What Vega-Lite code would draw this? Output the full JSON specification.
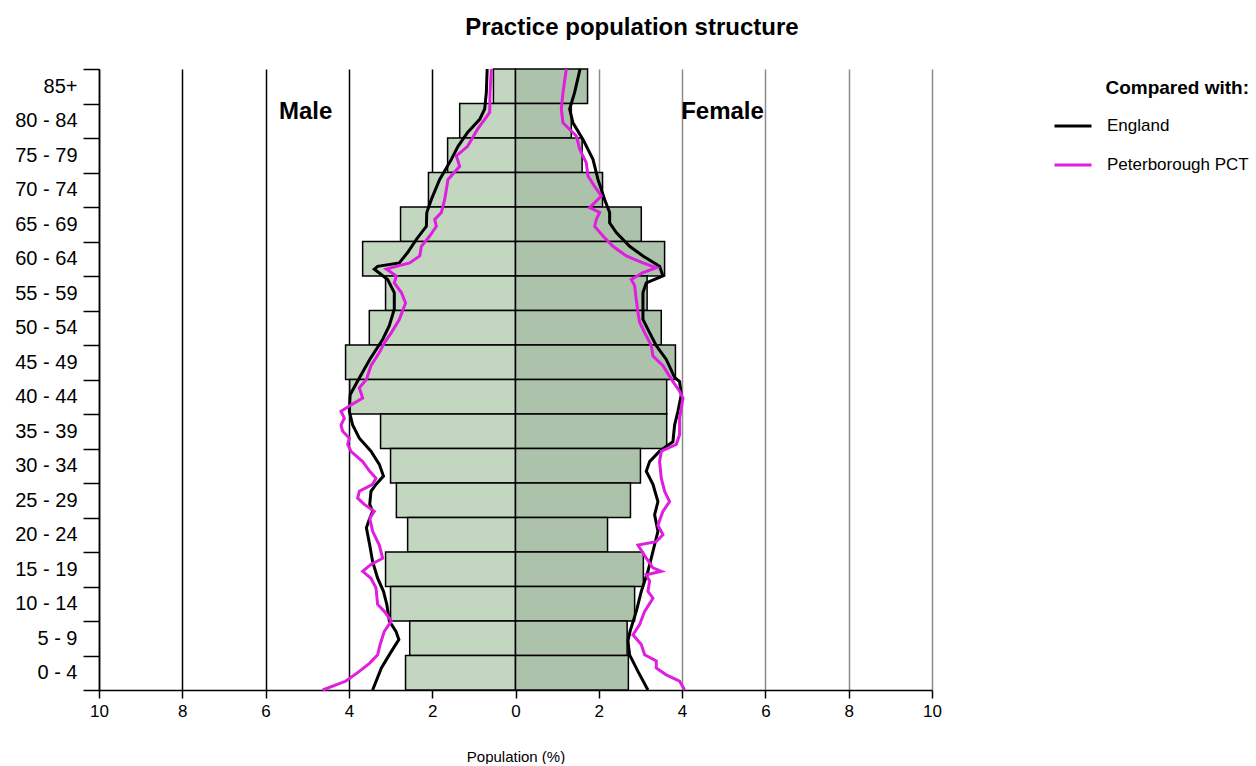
{
  "$schema": "https://vega.github.io/schema/vega-lite/v6.json",
  "width": 833,
  "height": 621,
  "padding": {"left": 14, "top": 16, "right": 4, "bottom": 0},
  "config": {"font": "Liberation Sans", "view": {"stroke": null}},
  "title": {"text": "Practice population structure", "fontSize": 24, "fontWeight": "bold", "font": "Liberation Sans", "color": "#000", "anchor": "middle", "frame": "bounds", "offset": 19},
  "resolve": {"scale": {"y": "independent"}},
  "datasets": {
    "bars": [
      {"band": "85+", "sex": "Male", "pop": -0.53},
      {"band": "80 - 84", "sex": "Male", "pop": -1.34},
      {"band": "75 - 79", "sex": "Male", "pop": -1.63},
      {"band": "70 - 74", "sex": "Male", "pop": -2.09},
      {"band": "65 - 69", "sex": "Male", "pop": -2.76},
      {"band": "60 - 64", "sex": "Male", "pop": -3.67},
      {"band": "55 - 59", "sex": "Male", "pop": -3.12},
      {"band": "50 - 54", "sex": "Male", "pop": -3.51},
      {"band": "45 - 49", "sex": "Male", "pop": -4.08},
      {"band": "40 - 44", "sex": "Male", "pop": -3.98},
      {"band": "35 - 39", "sex": "Male", "pop": -3.24},
      {"band": "30 - 34", "sex": "Male", "pop": -3.0},
      {"band": "25 - 29", "sex": "Male", "pop": -2.86},
      {"band": "20 - 24", "sex": "Male", "pop": -2.59},
      {"band": "15 - 19", "sex": "Male", "pop": -3.12},
      {"band": "10 - 14", "sex": "Male", "pop": -3.0},
      {"band": "5 - 9", "sex": "Male", "pop": -2.54},
      {"band": "0 - 4", "sex": "Male", "pop": -2.64},
      {"band": "85+", "sex": "Female", "pop": 1.73},
      {"band": "80 - 84", "sex": "Female", "pop": 1.34},
      {"band": "75 - 79", "sex": "Female", "pop": 1.6},
      {"band": "70 - 74", "sex": "Female", "pop": 2.09},
      {"band": "65 - 69", "sex": "Female", "pop": 3.02},
      {"band": "60 - 64", "sex": "Female", "pop": 3.58},
      {"band": "55 - 59", "sex": "Female", "pop": 3.16},
      {"band": "50 - 54", "sex": "Female", "pop": 3.5},
      {"band": "45 - 49", "sex": "Female", "pop": 3.84},
      {"band": "40 - 44", "sex": "Female", "pop": 3.63},
      {"band": "35 - 39", "sex": "Female", "pop": 3.63},
      {"band": "30 - 34", "sex": "Female", "pop": 3.0},
      {"band": "25 - 29", "sex": "Female", "pop": 2.76},
      {"band": "20 - 24", "sex": "Female", "pop": 2.21},
      {"band": "15 - 19", "sex": "Female", "pop": 3.07},
      {"band": "10 - 14", "sex": "Female", "pop": 2.86},
      {"band": "5 - 9", "sex": "Female", "pop": 2.68},
      {"band": "0 - 4", "sex": "Female", "pop": 2.71}
    ],
    "lines": [
      {"s": "England", "sex": "M", "age": 0, "pop": -3.43},
      {"s": "England", "sex": "M", "age": 3.2, "pop": -3.22},
      {"s": "England", "sex": "M", "age": 5.6, "pop": -2.98},
      {"s": "England", "sex": "M", "age": 7.3, "pop": -2.8},
      {"s": "England", "sex": "M", "age": 8.5, "pop": -2.87},
      {"s": "England", "sex": "M", "age": 10, "pop": -3.03},
      {"s": "England", "sex": "M", "age": 12.4, "pop": -3.09},
      {"s": "England", "sex": "M", "age": 14.3, "pop": -3.17},
      {"s": "England", "sex": "M", "age": 16.2, "pop": -3.31},
      {"s": "England", "sex": "M", "age": 18.6, "pop": -3.43},
      {"s": "England", "sex": "M", "age": 21, "pop": -3.5},
      {"s": "England", "sex": "M", "age": 23.5, "pop": -3.58},
      {"s": "England", "sex": "M", "age": 24.9, "pop": -3.5},
      {"s": "England", "sex": "M", "age": 25.9, "pop": -3.43},
      {"s": "England", "sex": "M", "age": 26.9, "pop": -3.5},
      {"s": "England", "sex": "M", "age": 28.8, "pop": -3.47},
      {"s": "England", "sex": "M", "age": 29.8, "pop": -3.35},
      {"s": "England", "sex": "M", "age": 31, "pop": -3.17},
      {"s": "England", "sex": "M", "age": 32.7, "pop": -3.27},
      {"s": "England", "sex": "M", "age": 34.6, "pop": -3.47},
      {"s": "England", "sex": "M", "age": 36.5, "pop": -3.75},
      {"s": "England", "sex": "M", "age": 38.4, "pop": -3.91},
      {"s": "England", "sex": "M", "age": 40.4, "pop": -3.99},
      {"s": "England", "sex": "M", "age": 42.8, "pop": -3.97},
      {"s": "England", "sex": "M", "age": 45.1, "pop": -3.76},
      {"s": "England", "sex": "M", "age": 47.9, "pop": -3.5},
      {"s": "England", "sex": "M", "age": 50.8, "pop": -3.19},
      {"s": "England", "sex": "M", "age": 52.8, "pop": -3.03},
      {"s": "England", "sex": "M", "age": 55.2, "pop": -2.91},
      {"s": "England", "sex": "M", "age": 57.6, "pop": -2.91},
      {"s": "England", "sex": "M", "age": 59.5, "pop": -3.07},
      {"s": "England", "sex": "M", "age": 61, "pop": -3.39},
      {"s": "England", "sex": "M", "age": 61.4, "pop": -3.31},
      {"s": "England", "sex": "M", "age": 61.9, "pop": -2.79},
      {"s": "England", "sex": "M", "age": 63.4, "pop": -2.59},
      {"s": "England", "sex": "M", "age": 65.3, "pop": -2.38},
      {"s": "England", "sex": "M", "age": 67.2, "pop": -2.14},
      {"s": "England", "sex": "M", "age": 69.2, "pop": -2.13},
      {"s": "England", "sex": "M", "age": 71.1, "pop": -2.02},
      {"s": "England", "sex": "M", "age": 74, "pop": -1.82},
      {"s": "England", "sex": "M", "age": 76.9, "pop": -1.54},
      {"s": "England", "sex": "M", "age": 78.8, "pop": -1.38},
      {"s": "England", "sex": "M", "age": 80.8, "pop": -1.15},
      {"s": "England", "sex": "M", "age": 82.7, "pop": -0.86},
      {"s": "England", "sex": "M", "age": 84.2, "pop": -0.74},
      {"s": "England", "sex": "M", "age": 86.6, "pop": -0.7},
      {"s": "England", "sex": "M", "age": 90, "pop": -0.68},
      {"s": "Peterborough PCT", "sex": "M", "age": 0, "pop": -4.63},
      {"s": "Peterborough PCT", "sex": "M", "age": 1.3, "pop": -4.07},
      {"s": "Peterborough PCT", "sex": "M", "age": 2.7, "pop": -3.75},
      {"s": "Peterborough PCT", "sex": "M", "age": 3.9, "pop": -3.5},
      {"s": "Peterborough PCT", "sex": "M", "age": 5.1, "pop": -3.31},
      {"s": "Peterborough PCT", "sex": "M", "age": 6.6, "pop": -3.25},
      {"s": "Peterborough PCT", "sex": "M", "age": 8.5, "pop": -3.15},
      {"s": "Peterborough PCT", "sex": "M", "age": 10, "pop": -2.98},
      {"s": "Peterborough PCT", "sex": "M", "age": 11.4, "pop": -3.15},
      {"s": "Peterborough PCT", "sex": "M", "age": 12.4, "pop": -3.31},
      {"s": "Peterborough PCT", "sex": "M", "age": 14.8, "pop": -3.35},
      {"s": "Peterborough PCT", "sex": "M", "age": 16.2, "pop": -3.47},
      {"s": "Peterborough PCT", "sex": "M", "age": 17.2, "pop": -3.67},
      {"s": "Peterborough PCT", "sex": "M", "age": 18.2, "pop": -3.47},
      {"s": "Peterborough PCT", "sex": "M", "age": 19.1, "pop": -3.19},
      {"s": "Peterborough PCT", "sex": "M", "age": 21, "pop": -3.27},
      {"s": "Peterborough PCT", "sex": "M", "age": 23, "pop": -3.43},
      {"s": "Peterborough PCT", "sex": "M", "age": 24.9, "pop": -3.5},
      {"s": "Peterborough PCT", "sex": "M", "age": 25.9, "pop": -3.39},
      {"s": "Peterborough PCT", "sex": "M", "age": 26.9, "pop": -3.63},
      {"s": "Peterborough PCT", "sex": "M", "age": 27.8, "pop": -3.79},
      {"s": "Peterborough PCT", "sex": "M", "age": 28.8, "pop": -3.75},
      {"s": "Peterborough PCT", "sex": "M", "age": 29.8, "pop": -3.43},
      {"s": "Peterborough PCT", "sex": "M", "age": 30.7, "pop": -3.35},
      {"s": "Peterborough PCT", "sex": "M", "age": 31.7, "pop": -3.5},
      {"s": "Peterborough PCT", "sex": "M", "age": 33.1, "pop": -3.67},
      {"s": "Peterborough PCT", "sex": "M", "age": 34.6, "pop": -3.95},
      {"s": "Peterborough PCT", "sex": "M", "age": 35.6, "pop": -4.03},
      {"s": "Peterborough PCT", "sex": "M", "age": 36.5, "pop": -3.99},
      {"s": "Peterborough PCT", "sex": "M", "age": 37.5, "pop": -4.15},
      {"s": "Peterborough PCT", "sex": "M", "age": 38.4, "pop": -4.19},
      {"s": "Peterborough PCT", "sex": "M", "age": 39.4, "pop": -4.11},
      {"s": "Peterborough PCT", "sex": "M", "age": 40.4, "pop": -4.19},
      {"s": "Peterborough PCT", "sex": "M", "age": 41.3, "pop": -3.95},
      {"s": "Peterborough PCT", "sex": "M", "age": 42.3, "pop": -3.67},
      {"s": "Peterborough PCT", "sex": "M", "age": 43.8, "pop": -3.75},
      {"s": "Peterborough PCT", "sex": "M", "age": 45, "pop": -3.58},
      {"s": "Peterborough PCT", "sex": "M", "age": 47, "pop": -3.47},
      {"s": "Peterborough PCT", "sex": "M", "age": 48.9, "pop": -3.27},
      {"s": "Peterborough PCT", "sex": "M", "age": 50.3, "pop": -3.15},
      {"s": "Peterborough PCT", "sex": "M", "age": 51.8, "pop": -2.98},
      {"s": "Peterborough PCT", "sex": "M", "age": 53.7, "pop": -2.79},
      {"s": "Peterborough PCT", "sex": "M", "age": 56.1, "pop": -2.64},
      {"s": "Peterborough PCT", "sex": "M", "age": 57.6, "pop": -2.74},
      {"s": "Peterborough PCT", "sex": "M", "age": 59, "pop": -2.91},
      {"s": "Peterborough PCT", "sex": "M", "age": 60, "pop": -2.86},
      {"s": "Peterborough PCT", "sex": "M", "age": 61, "pop": -3.1},
      {"s": "Peterborough PCT", "sex": "M", "age": 61.4, "pop": -2.86},
      {"s": "Peterborough PCT", "sex": "M", "age": 61.9, "pop": -2.54},
      {"s": "Peterborough PCT", "sex": "M", "age": 62.9, "pop": -2.3},
      {"s": "Peterborough PCT", "sex": "M", "age": 64.3, "pop": -2.26},
      {"s": "Peterborough PCT", "sex": "M", "age": 65.8, "pop": -2.06},
      {"s": "Peterborough PCT", "sex": "M", "age": 67.2, "pop": -1.9},
      {"s": "Peterborough PCT", "sex": "M", "age": 68.2, "pop": -1.94},
      {"s": "Peterborough PCT", "sex": "M", "age": 69.2, "pop": -1.78},
      {"s": "Peterborough PCT", "sex": "M", "age": 71.1, "pop": -1.7},
      {"s": "Peterborough PCT", "sex": "M", "age": 74, "pop": -1.62},
      {"s": "Peterborough PCT", "sex": "M", "age": 75.9, "pop": -1.34},
      {"s": "Peterborough PCT", "sex": "M", "age": 77.4, "pop": -1.42},
      {"s": "Peterborough PCT", "sex": "M", "age": 78.8, "pop": -1.15},
      {"s": "Peterborough PCT", "sex": "M", "age": 81.3, "pop": -0.91},
      {"s": "Peterborough PCT", "sex": "M", "age": 83.7, "pop": -0.62},
      {"s": "Peterborough PCT", "sex": "M", "age": 86.6, "pop": -0.61},
      {"s": "Peterborough PCT", "sex": "M", "age": 90, "pop": -0.58},
      {"s": "England", "sex": "F", "age": 0, "pop": 3.18},
      {"s": "England", "sex": "F", "age": 2.7, "pop": 2.94},
      {"s": "England", "sex": "F", "age": 5.1, "pop": 2.74},
      {"s": "England", "sex": "F", "age": 7.1, "pop": 2.7},
      {"s": "England", "sex": "F", "age": 8.5, "pop": 2.75},
      {"s": "England", "sex": "F", "age": 11.4, "pop": 2.9},
      {"s": "England", "sex": "F", "age": 14.3, "pop": 3.02},
      {"s": "England", "sex": "F", "age": 17.2, "pop": 3.18},
      {"s": "England", "sex": "F", "age": 20.1, "pop": 3.3},
      {"s": "England", "sex": "F", "age": 23, "pop": 3.42},
      {"s": "England", "sex": "F", "age": 25.4, "pop": 3.34},
      {"s": "England", "sex": "F", "age": 27.3, "pop": 3.42},
      {"s": "England", "sex": "F", "age": 29.8, "pop": 3.3},
      {"s": "England", "sex": "F", "age": 31.7, "pop": 3.14},
      {"s": "England", "sex": "F", "age": 33.1, "pop": 3.22},
      {"s": "England", "sex": "F", "age": 34.6, "pop": 3.46},
      {"s": "England", "sex": "F", "age": 36, "pop": 3.78},
      {"s": "England", "sex": "F", "age": 38.4, "pop": 3.82},
      {"s": "England", "sex": "F", "age": 40.4, "pop": 3.9},
      {"s": "England", "sex": "F", "age": 42.8, "pop": 3.98},
      {"s": "England", "sex": "F", "age": 44.7, "pop": 3.94},
      {"s": "England", "sex": "F", "age": 45.3, "pop": 3.82},
      {"s": "England", "sex": "F", "age": 47.9, "pop": 3.62},
      {"s": "England", "sex": "F", "age": 49.9, "pop": 3.38},
      {"s": "England", "sex": "F", "age": 51.8, "pop": 3.22},
      {"s": "England", "sex": "F", "age": 53.7, "pop": 3.06},
      {"s": "England", "sex": "F", "age": 55.7, "pop": 3.06},
      {"s": "England", "sex": "F", "age": 57.6, "pop": 3.06},
      {"s": "England", "sex": "F", "age": 59, "pop": 3.14},
      {"s": "England", "sex": "F", "age": 60, "pop": 3.54},
      {"s": "England", "sex": "F", "age": 61.4, "pop": 3.46},
      {"s": "England", "sex": "F", "age": 62.9, "pop": 3.06},
      {"s": "England", "sex": "F", "age": 64.3, "pop": 2.74},
      {"s": "England", "sex": "F", "age": 66.3, "pop": 2.42},
      {"s": "England", "sex": "F", "age": 67.7, "pop": 2.26},
      {"s": "England", "sex": "F", "age": 69.2, "pop": 2.26},
      {"s": "England", "sex": "F", "age": 71.1, "pop": 2.14},
      {"s": "England", "sex": "F", "age": 74, "pop": 1.98},
      {"s": "England", "sex": "F", "age": 76.9, "pop": 1.86},
      {"s": "England", "sex": "F", "age": 79.8, "pop": 1.62},
      {"s": "England", "sex": "F", "age": 82.2, "pop": 1.38},
      {"s": "England", "sex": "F", "age": 84.2, "pop": 1.3},
      {"s": "England", "sex": "F", "age": 86.6, "pop": 1.42},
      {"s": "England", "sex": "F", "age": 90, "pop": 1.55},
      {"s": "Peterborough PCT", "sex": "F", "age": 0, "pop": 4.06},
      {"s": "Peterborough PCT", "sex": "F", "age": 1.3, "pop": 3.94},
      {"s": "Peterborough PCT", "sex": "F", "age": 2.2, "pop": 3.62},
      {"s": "Peterborough PCT", "sex": "F", "age": 3.2, "pop": 3.38},
      {"s": "Peterborough PCT", "sex": "F", "age": 4.2, "pop": 3.38},
      {"s": "Peterborough PCT", "sex": "F", "age": 5.1, "pop": 3.1},
      {"s": "Peterborough PCT", "sex": "F", "age": 6.6, "pop": 3.02},
      {"s": "Peterborough PCT", "sex": "F", "age": 8, "pop": 2.82},
      {"s": "Peterborough PCT", "sex": "F", "age": 9.5, "pop": 2.98},
      {"s": "Peterborough PCT", "sex": "F", "age": 11.4, "pop": 3.1},
      {"s": "Peterborough PCT", "sex": "F", "age": 13.3, "pop": 3.3},
      {"s": "Peterborough PCT", "sex": "F", "age": 14.3, "pop": 3.18},
      {"s": "Peterborough PCT", "sex": "F", "age": 15.8, "pop": 3.22},
      {"s": "Peterborough PCT", "sex": "F", "age": 16.7, "pop": 3.14},
      {"s": "Peterborough PCT", "sex": "F", "age": 17.2, "pop": 3.5},
      {"s": "Peterborough PCT", "sex": "F", "age": 17.7, "pop": 3.3},
      {"s": "Peterborough PCT", "sex": "F", "age": 19.1, "pop": 3.14},
      {"s": "Peterborough PCT", "sex": "F", "age": 21, "pop": 2.94},
      {"s": "Peterborough PCT", "sex": "F", "age": 21.5, "pop": 3.38},
      {"s": "Peterborough PCT", "sex": "F", "age": 22.5, "pop": 3.54},
      {"s": "Peterborough PCT", "sex": "F", "age": 23.9, "pop": 3.42},
      {"s": "Peterborough PCT", "sex": "F", "age": 25.9, "pop": 3.54},
      {"s": "Peterborough PCT", "sex": "F", "age": 27.3, "pop": 3.7},
      {"s": "Peterborough PCT", "sex": "F", "age": 28.8, "pop": 3.58},
      {"s": "Peterborough PCT", "sex": "F", "age": 30.7, "pop": 3.5},
      {"s": "Peterborough PCT", "sex": "F", "age": 33.1, "pop": 3.46},
      {"s": "Peterborough PCT", "sex": "F", "age": 34.6, "pop": 3.5},
      {"s": "Peterborough PCT", "sex": "F", "age": 35.6, "pop": 3.86},
      {"s": "Peterborough PCT", "sex": "F", "age": 37, "pop": 3.94},
      {"s": "Peterborough PCT", "sex": "F", "age": 39.4, "pop": 3.94},
      {"s": "Peterborough PCT", "sex": "F", "age": 42.3, "pop": 4.02},
      {"s": "Peterborough PCT", "sex": "F", "age": 43.3, "pop": 3.94},
      {"s": "Peterborough PCT", "sex": "F", "age": 44.7, "pop": 3.78},
      {"s": "Peterborough PCT", "sex": "F", "age": 47, "pop": 3.54},
      {"s": "Peterborough PCT", "sex": "F", "age": 48.4, "pop": 3.3},
      {"s": "Peterborough PCT", "sex": "F", "age": 49.9, "pop": 3.26},
      {"s": "Peterborough PCT", "sex": "F", "age": 51.8, "pop": 3.1},
      {"s": "Peterborough PCT", "sex": "F", "age": 53.3, "pop": 2.98},
      {"s": "Peterborough PCT", "sex": "F", "age": 54.7, "pop": 2.94},
      {"s": "Peterborough PCT", "sex": "F", "age": 56.6, "pop": 2.9},
      {"s": "Peterborough PCT", "sex": "F", "age": 58.6, "pop": 2.86},
      {"s": "Peterborough PCT", "sex": "F", "age": 59.5, "pop": 2.78},
      {"s": "Peterborough PCT", "sex": "F", "age": 60.5, "pop": 3.06},
      {"s": "Peterborough PCT", "sex": "F", "age": 61.2, "pop": 3.38},
      {"s": "Peterborough PCT", "sex": "F", "age": 61.9, "pop": 3.06},
      {"s": "Peterborough PCT", "sex": "F", "age": 62.9, "pop": 2.66},
      {"s": "Peterborough PCT", "sex": "F", "age": 64.3, "pop": 2.34},
      {"s": "Peterborough PCT", "sex": "F", "age": 65.8, "pop": 2.1},
      {"s": "Peterborough PCT", "sex": "F", "age": 67.2, "pop": 1.9},
      {"s": "Peterborough PCT", "sex": "F", "age": 68.2, "pop": 1.94},
      {"s": "Peterborough PCT", "sex": "F", "age": 69.2, "pop": 2.02},
      {"s": "Peterborough PCT", "sex": "F", "age": 69.9, "pop": 1.78},
      {"s": "Peterborough PCT", "sex": "F", "age": 71.6, "pop": 2.06},
      {"s": "Peterborough PCT", "sex": "F", "age": 73, "pop": 1.9},
      {"s": "Peterborough PCT", "sex": "F", "age": 74.5, "pop": 1.74},
      {"s": "Peterborough PCT", "sex": "F", "age": 76.4, "pop": 1.7},
      {"s": "Peterborough PCT", "sex": "F", "age": 78.4, "pop": 1.54},
      {"s": "Peterborough PCT", "sex": "F", "age": 80.3, "pop": 1.46},
      {"s": "Peterborough PCT", "sex": "F", "age": 82.2, "pop": 1.14},
      {"s": "Peterborough PCT", "sex": "F", "age": 84.2, "pop": 1.1},
      {"s": "Peterborough PCT", "sex": "F", "age": 86.6, "pop": 1.14},
      {"s": "Peterborough PCT", "sex": "F", "age": 90, "pop": 1.22}
    ]
  },
  "layer": [
    {
      "data": {"name": "bars"},
      "mark": {"type": "bar", "stroke": "#000", "strokeWidth": 1.5, "cornerRadius": 0},
      "encoding": {
        "x": {
          "field": "pop", "type": "quantitative",
          "scale": {"domain": [-10, 10], "nice": false, "zero": false},
          "axis": {
            "values": [-10, -8, -6, -4, -2, 0, 2, 4, 6, 8, 10],
            "labelExpr": "abs(datum.value)",
            "title": "Population (%)",
            "titleFontSize": 15, "titleFontWeight": "normal", "titleColor": "#000", "titlePadding": 30,
            "labelFontSize": 17, "labelColor": "#000", "labelPadding": 5, "labelFlush": false,
            "domainColor": "#000", "domainWidth": 1.5,
            "tickColor": "#000", "tickSize": 8, "tickWidth": 1.5,
            "grid": true,
            "gridColor": {"condition": {"test": "datum.value > 0", "value": "#8c8c8c"}, "value": "#000"},
            "gridWidth": 1.5, "gridOpacity": 1
          }
        },
        "x2": {"datum": 0},
        "y": {
          "field": "band", "type": "ordinal",
          "sort": ["85+", "80 - 84", "75 - 79", "70 - 74", "65 - 69", "60 - 64", "55 - 59", "50 - 54", "45 - 49", "40 - 44", "35 - 39", "30 - 34", "25 - 29", "20 - 24", "15 - 19", "10 - 14", "5 - 9", "0 - 4"],
          "scale": {"paddingInner": 0, "paddingOuter": 0},
          "axis": {
            "tickBand": "extent",
            "labelFontSize": 20, "labelColor": "#000", "labelPadding": 6, "labelOverlap": false, "labelBound": false,
            "title": null,
            "domainColor": "#000", "domainWidth": 1.5,
            "tickColor": "#000", "tickSize": 16, "tickWidth": 1.5,
            "grid": false
          }
        },
        "fill": {
          "field": "sex", "type": "nominal",
          "scale": {"domain": ["Male", "Female"], "range": ["#c3d6c0", "#adc2ab"]},
          "legend": null
        }
      }
    },
    {
      "data": {"name": "lines"},
      "mark": {"type": "line", "strokeWidth": 3, "strokeJoin": "miter"},
      "encoding": {
        "x": {"field": "pop", "type": "quantitative"},
        "y": {"field": "age", "type": "quantitative", "scale": {"domain": [0, 90], "nice": false, "zero": false}, "axis": null},
        "order": {"field": "age", "type": "quantitative"},
        "detail": {"field": "sex", "type": "nominal"},
        "color": {
          "field": "s", "type": "nominal",
          "scale": {"domain": ["England", "Peterborough PCT"], "range": ["#000000", "#e01ee0"]},
          "legend": {
            "title": "Compared with:",
            "orient": "none", "legendX": 954, "legendY": 10,
            "titleFontSize": 19, "titleFontWeight": "bold", "titleColor": "#000", "titleAnchor": "end", "titlePadding": 8,
            "labelFontSize": 17, "labelColor": "#000", "labelOffset": 14,
            "symbolType": "stroke", "symbolSize": 1369, "symbolStrokeWidth": 3, "rowPadding": 11
          }
        }
      }
    },
    {
      "data": {"values": [{}]},
      "mark": {"type": "text", "text": "Male", "fontSize": 24, "fontWeight": "bold", "align": "center", "baseline": "middle", "color": "#000"},
      "encoding": {"x": {"datum": -5.04, "type": "quantitative"}, "y": {"datum": 83.8, "type": "quantitative", "scale": {"domain": [0, 90], "nice": false, "zero": false}, "axis": null}}
    },
    {
      "data": {"values": [{}]},
      "mark": {"type": "text", "text": "Female", "fontSize": 24, "fontWeight": "bold", "align": "center", "baseline": "middle", "color": "#000"},
      "encoding": {"x": {"datum": 4.97, "type": "quantitative"}, "y": {"datum": 83.8, "type": "quantitative", "scale": {"domain": [0, 90], "nice": false, "zero": false}, "axis": null}}
    }
  ]
}
